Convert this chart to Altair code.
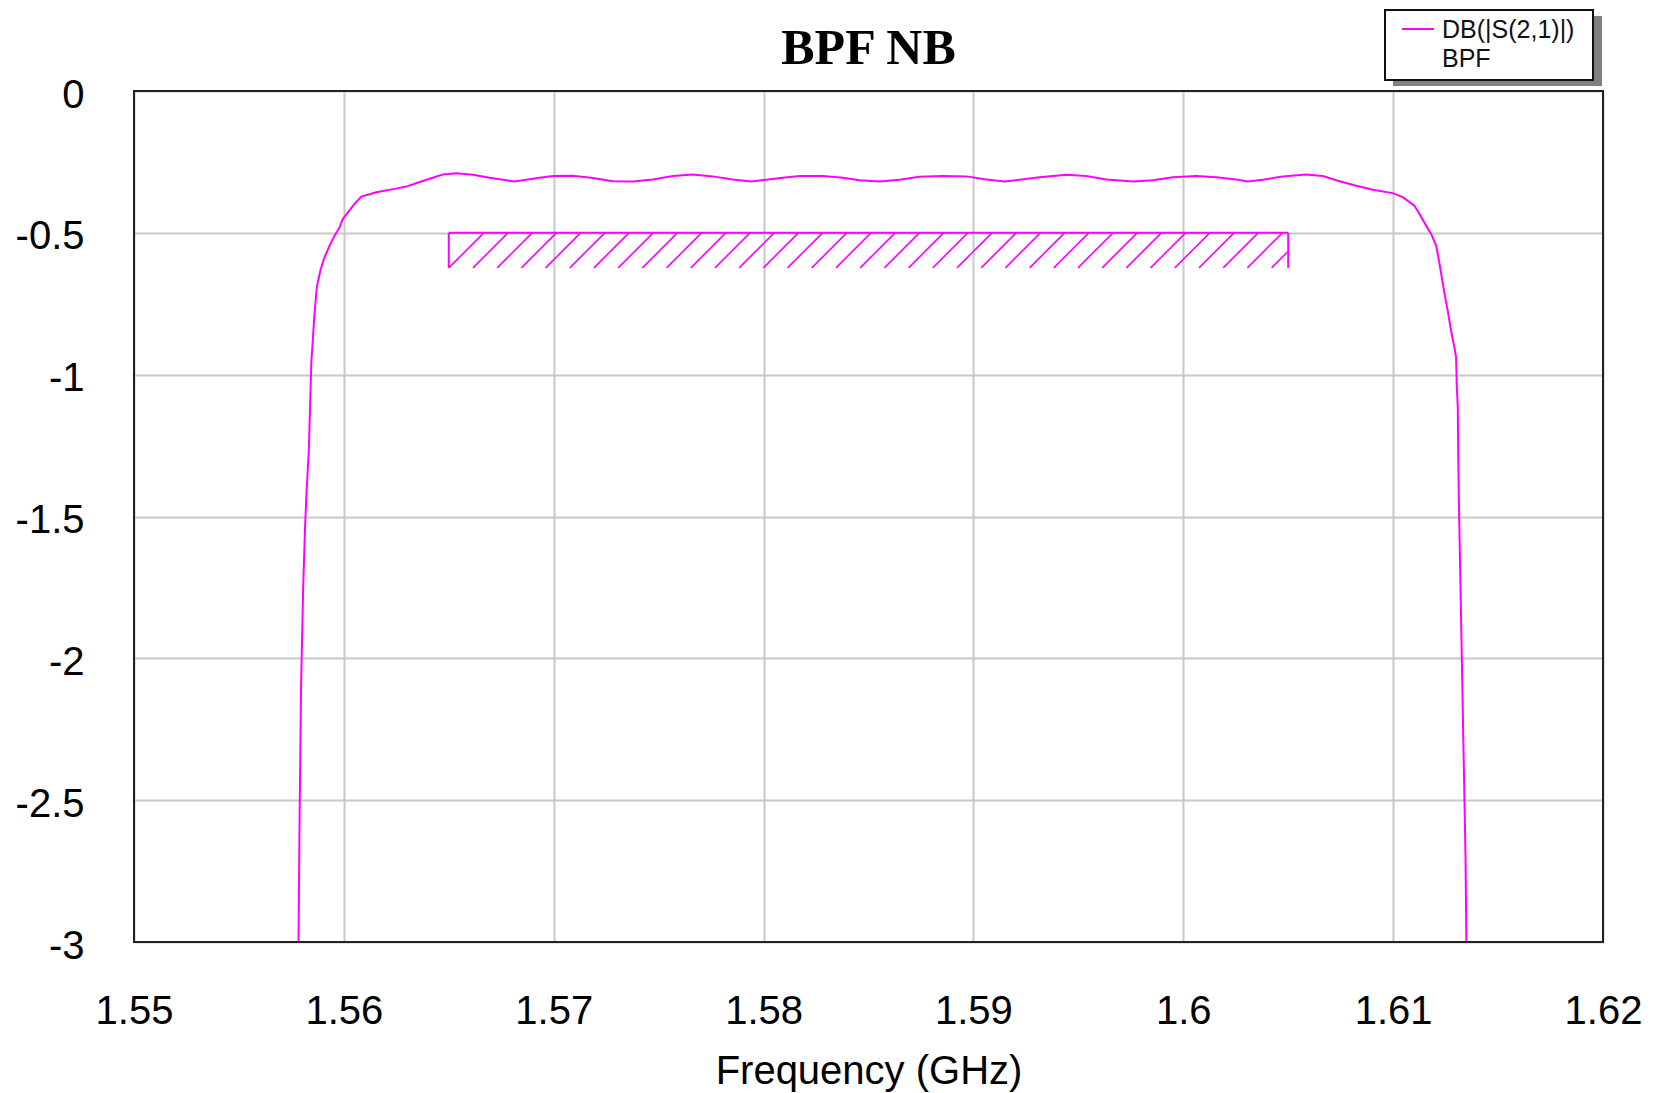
import altair as alt
import pandas as pd

# ---------------- data ----------------
freq_ghz = [
    1.55784, 1.55789, 1.55796, 1.55806, 1.55815, 1.55822, 1.55833, 1.55840,
    1.55845, 1.55852, 1.55860, 1.55871, 1.55888, 1.55908, 1.55932, 1.55956,
    1.55980, 1.55995, 1.56027, 1.56051, 1.56083, 1.56154, 1.56242, 1.56297,
    1.56361, 1.56424, 1.56472, 1.56536, 1.56615, 1.56694, 1.56774, 1.56813,
    1.56869, 1.56932, 1.56996, 1.57091, 1.57186, 1.57282, 1.57377, 1.57472,
    1.57568, 1.57663, 1.57758, 1.57853, 1.57941, 1.58013, 1.58092, 1.58171,
    1.58282, 1.58378, 1.58457, 1.58552, 1.58648, 1.58743, 1.58854, 1.58966,
    1.59061, 1.59148, 1.59220, 1.59315, 1.59442, 1.59537, 1.59633, 1.59759,
    1.59855, 1.59950, 1.60061, 1.60157, 1.60252, 1.60307, 1.60379, 1.60474,
    1.60585, 1.60665, 1.60744, 1.60824, 1.60903, 1.60998, 1.61046, 1.61101,
    1.61125, 1.61157, 1.61181, 1.61205, 1.61221, 1.61245, 1.61260, 1.61276,
    1.61292, 1.61300, 1.61303, 1.61308, 1.61310, 1.61313, 1.61321, 1.61329,
    1.61337, 1.61345, 1.61349,
]
s21_db = [
    -3.000, -2.567, -2.104, -1.755, -1.540, -1.417, -1.268, -1.091,
    -0.957, -0.880, -0.786, -0.692, -0.633, -0.586, -0.545, -0.510,
    -0.480, -0.451, -0.421, -0.398, -0.372, -0.357, -0.345, -0.337,
    -0.321, -0.306, -0.294, -0.290, -0.295, -0.306, -0.315, -0.319,
    -0.313, -0.306, -0.300, -0.299, -0.307, -0.318, -0.319, -0.312,
    -0.300, -0.294, -0.301, -0.312, -0.319, -0.313, -0.306, -0.300,
    -0.300, -0.306, -0.315, -0.319, -0.313, -0.302, -0.300, -0.301,
    -0.312, -0.319, -0.313, -0.304, -0.295, -0.300, -0.312, -0.319,
    -0.315, -0.304, -0.300, -0.304, -0.312, -0.319, -0.313, -0.301,
    -0.294, -0.300, -0.318, -0.334, -0.348, -0.360, -0.374, -0.404,
    -0.433, -0.474, -0.504, -0.545, -0.609, -0.715, -0.774, -0.845,
    -0.904, -0.939, -1.033, -1.115, -1.268, -1.434, -1.751, -2.069,
    -2.387, -2.704, -3.000,
]
x_tick_values = [1.55, 1.56, 1.57, 1.58, 1.59, 1.6, 1.61, 1.62]
y_tick_values = [0, -0.5, -1, -1.5, -2, -2.5, -3]
goal_start, goal_stop, goal_level = 1.565, 1.605, -0.5

chart_title = "BPF NB"
x_title = "Frequency (GHz)"
legend_label_1 = "DB(|S(2,1)|)"
legend_label_2 = "BPF"

# ---------------- layout / style ----------------
W, H = 1469, 851
X_DOMAIN = [1.55, 1.62]
Y_DOMAIN = [-3, 0]
MAG = "#ff00ff"
SANS = "Liberation Sans"
SERIF = "Liberation Serif"
HATCH_SPACING_PX = 24.2
HATCH_HEIGHT_PX = 35

px_per_f = W / (X_DOMAIN[1] - X_DOMAIN[0])
px_per_d = H / (Y_DOMAIN[1] - Y_DOMAIN[0])
hatch_step_f = HATCH_SPACING_PX / px_per_f
hatch_run_f = HATCH_HEIGHT_PX / px_per_f
hatch_d = HATCH_HEIGHT_PX / px_per_d

curve = pd.DataFrame({"f": freq_ghz, "d": s21_db})

rows = []
b = goal_start
while b < goal_stop - 1e-9:
    t = b + hatch_run_f
    bottom = goal_level - hatch_d
    if t <= goal_stop:
        rows.append({"f": b, "d": bottom, "f2": t, "d2": goal_level})
    else:
        frac = (goal_stop - b) / hatch_run_f
        rows.append({"f": b, "d": bottom, "f2": goal_stop, "d2": bottom + frac * hatch_d})
    b += hatch_step_f
hatch = pd.DataFrame(rows)

outline = pd.DataFrame([
    {"f": goal_start, "d": goal_level, "f2": goal_stop, "d2": goal_level},
    {"f": goal_start, "d": goal_level, "f2": goal_start, "d2": goal_level - hatch_d},
    {"f": goal_stop, "d": goal_level, "f2": goal_stop, "d2": goal_level - hatch_d},
])

xscale = alt.Scale(domain=X_DOMAIN, nice=False, zero=False)
yscale = alt.Scale(domain=Y_DOMAIN, nice=False, zero=False)

xaxis = alt.Axis(
    values=x_tick_values, labelExpr="'' + datum.value", grid=True,
    gridColor="#c8c8c8", gridWidth=2, ticks=False, tickSize=0, domain=False,
    labelFont=SANS, labelFontSize=40, labelColor="#000", labelPadding=81,
    labelBaseline="alphabetic", labelFlush=False, labelOverlap=False,
    title=x_title, titleFont=SANS, titleFontSize=40, titleFontWeight="normal",
    titleColor="#000", titleY=141, titleBaseline="alphabetic",
)
yaxis = alt.Axis(
    values=y_tick_values, labelExpr="'' + datum.value", grid=True,
    gridColor="#c8c8c8", gridWidth=2, ticks=False, tickSize=0, domain=False,
    labelFont=SANS, labelFontSize=40, labelColor="#000", labelPadding=50,
    labelBaseline="middle", labelOffset=4, labelFlush=False, labelOverlap=False,
    title=None,
)

line = alt.Chart(curve).mark_line(color=MAG, strokeWidth=2, clip=True).encode(
    x=alt.X("f:Q", scale=xscale, axis=xaxis),
    y=alt.Y("d:Q", scale=yscale, axis=yaxis),
    order="f:Q",
)

hatch_layer = alt.Chart(hatch).mark_rule(color=MAG, strokeWidth=1.6).encode(
    x=alt.X("f:Q", scale=xscale, axis=xaxis), x2="f2:Q",
    y=alt.Y("d:Q", scale=yscale, axis=yaxis), y2="d2:Q",
)
outline_layer = alt.Chart(outline).mark_rule(color=MAG, strokeWidth=2).encode(
    x=alt.X("f:Q", scale=xscale, axis=xaxis), x2="f2:Q",
    y=alt.Y("d:Q", scale=yscale, axis=yaxis), y2="d2:Q",
)

one = pd.DataFrame({"k": [0]})
frame = alt.Chart(one).mark_rect(fill="transparent", stroke="#222222", strokeWidth=2).encode(
    x=alt.value(0), x2=alt.value(W), y=alt.value(0), y2=alt.value(H)
)
shadow = alt.Chart(one).mark_rect(fill="#808080").encode(
    x=alt.value(1259), x2=alt.value(1468), y=alt.value(-75), y2=alt.value(-5)
)
box = alt.Chart(one).mark_rect(fill="white", stroke="#111111", strokeWidth=2).encode(
    x=alt.value(1251), x2=alt.value(1459), y=alt.value(-81), y2=alt.value(-11)
)
leg_line = alt.Chart(one).mark_rule(color=MAG, strokeWidth=2).encode(
    x=alt.value(1268), x2=alt.value(1300), y=alt.value(-62)
)
leg_t1 = alt.Chart(one).mark_text(
    font=SANS, fontSize=25, color="#111", align="left", baseline="alphabetic"
).encode(x=alt.value(1308), y=alt.value(-53), text=alt.value(legend_label_1))
leg_t2 = alt.Chart(one).mark_text(
    font=SANS, fontSize=25, color="#111", align="left", baseline="alphabetic"
).encode(x=alt.value(1308), y=alt.value(-24), text=alt.value(legend_label_2))
title = alt.Chart(one).mark_text(
    font=SERIF, fontSize=50, fontWeight="bold", color="#000", align="center",
    baseline="alphabetic"
).encode(x=alt.value(W / 2), y=alt.value(-27), text=alt.value(chart_title))

chart = alt.layer(
    line, hatch_layer, outline_layer, frame, shadow, box, leg_line, leg_t1, leg_t2, title
).properties(
    width=W, height=H,
    padding={"left": 126, "top": 83, "right": 50, "bottom": 150},
    autosize=alt.AutoSizeParams(type="none"),
    background="white",
).configure_view(stroke=None)

chart.save("out.html", embed_options={"renderer": "svg", "actions": False})
